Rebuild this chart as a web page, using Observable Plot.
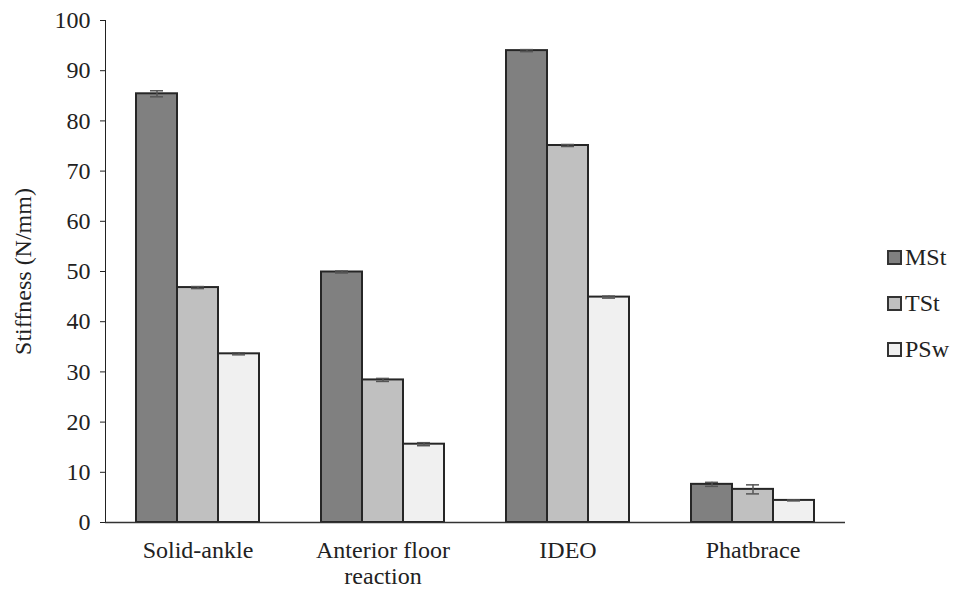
<!DOCTYPE html>
<html>
<head>
<meta charset="utf-8">
<script src="https://cdn.jsdelivr.net/npm/d3@7"></script>
<script src="https://cdn.jsdelivr.net/npm/@observablehq/plot@0.6"></script>
<style>
  html, body { margin: 0; padding: 0; background: #fff; }
  #wrap { position: relative; width: 956px; height: 592px; font-family: "Liberation Serif", "Times New Roman", serif; }
  #legend { position: absolute; left: 887px; top: 234px; font-size: 24px; color: #222; }
  .item { display: flex; align-items: center; height: 46px; }
  .sw { width: 11px; height: 11px; border: 2px solid #333; margin-right: 3px; }
</style>
</head>
<body>
<div id="wrap">
  <div id="chart"></div>
  <div id="legend"></div>
</div>
<script>
const categories = ["Solid-ankle", "Anterior floor reaction", "IDEO", "Phatbrace"];
const categoryLabels = ["Solid-ankle", "Anterior floor\nreaction", "IDEO", "Phatbrace"];
const series = ["MSt", "TSt", "PSw"];
const colors = ["#808080", "#c0c0c0", "#f0f0f0"];
const mstValues = [85.4, 49.9, 94.0, 7.6];
const tstValues = [46.8, 28.4, 75.1, 6.6];
const pswValues = [33.6, 15.6, 44.9, 4.4];
const mstErrors = [0.6, 0.2, 0.2, 0.4];
const tstErrors = [0.2, 0.3, 0.2, 0.9];
const pswErrors = [0.2, 0.3, 0.2, 0.1];
const yTicks = [0, 10, 20, 30, 40, 50, 60, 70, 80, 90, 100];

const valueSets = [mstValues, tstValues, pswValues];
const errorSets = [mstErrors, tstErrors, pswErrors];
const rows = [];
categories.forEach((c, i) => {
  series.forEach((s, j) => {
    rows.push({cat: c, s, v: valueSets[j][i], e: errorSets[j][i]});
  });
});
const labelOf = new Map(categories.map((c, i) => [c, categoryLabels[i]]));

const chart = Plot.plot({
  width: 956,
  height: 592,
  marginLeft: 105,
  marginRight: 111,
  marginTop: 20,
  marginBottom: 70,
  style: {fontFamily: "'Liberation Serif', 'Times New Roman', serif", fontSize: "24px", color: "#222", background: "#fff"},
  fx: {domain: categories, padding: 0, label: null},
  x: {domain: series, axis: null, paddingInner: 0, paddingOuter: 0.756},
  y: {domain: [0, 100], ticks: yTicks, tickSize: 5, tickPadding: 10, label: "Stiffness (N/mm)", labelAnchor: "center", labelArrow: "none", labelOffset: 92, line: true},
  color: {domain: series, range: colors},
  marks: [
    Plot.axisFx({anchor: "bottom", label: null, tickSize: 0, tickPadding: 16, lineHeight: 1.12, tickFormat: d => labelOf.get(d)}),
    Plot.barY(rows, {fx: "cat", x: "s", y: "v", fill: "s", stroke: "#262626", strokeWidth: 2}),
    Plot.ruleX(rows, {fx: "cat", x: "s", y1: d => d.v - d.e, y2: d => d.v + d.e, stroke: "#555", strokeWidth: 1.5}),
    Plot.tickY(rows, {fx: "cat", x: "s", y: d => d.v + d.e, stroke: "#555", strokeWidth: 1.5, insetLeft: 14, insetRight: 14}),
    Plot.tickY(rows, {fx: "cat", x: "s", y: d => d.v - d.e, stroke: "#555", strokeWidth: 1.5, insetLeft: 14, insetRight: 14}),
    Plot.ruleY([0], {stroke: "#333", strokeWidth: 1.5})
  ]
});
document.getElementById("chart").appendChild(chart);

const legend = document.getElementById("legend");
series.forEach((s, j) => {
  const item = document.createElement("div");
  item.className = "item";
  const sw = document.createElement("span");
  sw.className = "sw";
  sw.style.background = colors[j];
  const t = document.createElement("span");
  t.textContent = s;
  item.appendChild(sw);
  item.appendChild(t);
  legend.appendChild(item);
});
</script>
</body>
</html>
